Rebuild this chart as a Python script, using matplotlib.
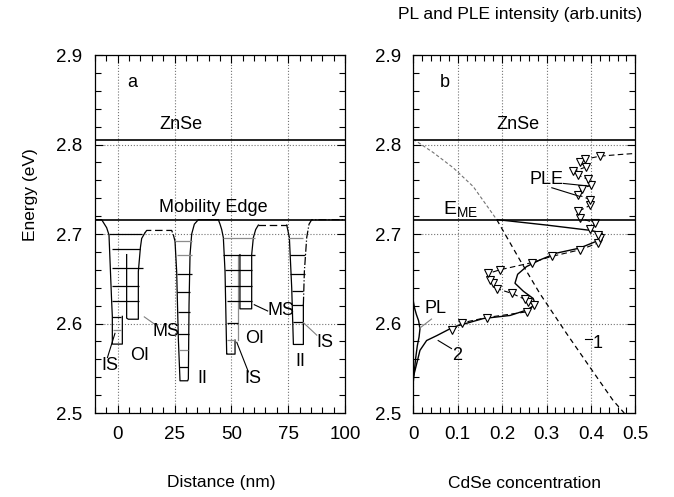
import matplotlib
matplotlib.use('Agg')
import matplotlib.pyplot as plt
from matplotlib.ticker import MultipleLocator

plt.rcParams['font.family'] = ['Liberation Sans', 'DejaVu Sans']
plt.rcParams['mathtext.fontset'] = 'custom'
plt.rcParams['mathtext.rm'] = 'Liberation Sans'

# energies of the two reference lines (eV)
e_znse = 2.805
e_mobility = 2.716

# ---- panel a: island profile along the layer (nm, eV)
well1_x = [-10, -7.05, -4.85, -3.83, -2.66, -2.36, -2.36, 2.04, 2.04]
well1_y = [2.716, 2.716, 2.707, 2.699, 2.6246, 2.608, 2.577, 2.577, 2.608]
ms1_x = [3.94, 3.94, 4.68, 9.08, 9.08, 10.0, 10.55, 12.02]
ms1_y = [2.677, 2.606, 2.6048, 2.6048, 2.658, 2.685, 2.695, 2.7014]
barrier1_x = [12.02, 12.76, 23.76, 24.49]
barrier1_y = [2.7014, 2.704, 2.704, 2.699]
ii1_x = [24.49, 25.22, 25.95, 26.69, 27.42, 30.80, 31.09, 31.39, 31.83, 32.56, 33.73, 35.49, 44.29]
ii1_y = [2.699, 2.692, 2.658, 2.583, 2.536, 2.536, 2.538, 2.621, 2.677, 2.700, 2.711, 2.716, 2.716]
well2_x = [44.29, 45.03, 45.76, 46.49, 47.23, 47.96, 47.96, 51.63, 51.63]
well2_y = [2.716, 2.711, 2.705, 2.696, 2.658, 2.5665, 2.5658, 2.5658, 2.5815]
oi2_x = [52.8, 52.8]
oi2_y = [2.5815, 2.677]
ms2_x = [53.8, 53.8, 54.56, 58.96, 58.96, 59.69, 60.72, 61.89]
ms2_y = [2.677, 2.6164, 2.6164, 2.6164, 2.677, 2.696, 2.705, 2.710]
barrier2_x = [61.89, 74.37]
barrier2_y = [2.710, 2.710]
ii2_x = [74.37, 74.81, 75.54, 76.57, 77.30, 77.30, 81.70, 81.70]
ii2_y = [2.710, 2.705, 2.696, 2.640, 2.578, 2.5766, 2.5766, 2.621]
ii2_edge_x = [81.70, 82.14, 83.17, 84.2, 85.37, 100]
ii2_edge_y = [2.621, 2.658, 2.696, 2.711, 2.716, 2.716]

# quantised levels: x start, x end, energy, colour
level_x1 = [-3.83, -2.66, -2.66, -2.66, -2.66, -2.36, -1.92,
            25.22, 25.95, 25.95, 25.95, 26.4, 26.69, 26.98, 26.98,
            46.49, 46.49, 47.23, 47.23, 47.96, 47.96, 47.96,
            75.10, 75.84, 75.84, 76.57, 76.57, 77.30]
level_x2 = [10.55, 9.82, 10.99, 9.52, 9.52, 1.45, 1.45,
            32.85, 32.56, 32.56, 31.83, 31.83, 31.39, 31.09, 30.80,
            60.43, 60.43, 58.96, 58.96, 58.96, 53.09, 51.63,
            81.70, 82.43, 82.43, 81.70, 81.70, 81.70]
level_e = [2.7003, 2.6834, 2.6621, 2.6415, 2.6246, 2.6078, 2.5928,
           2.6921, 2.6760, 2.6554, 2.6348, 2.6124, 2.5880, 2.5704, 2.5517,
           2.6958, 2.6771, 2.6603, 2.6415, 2.6246, 2.6003, 2.5815,
           2.6958, 2.6760, 2.6554, 2.6366, 2.6209, 2.6021]
level_c = ['k', 'k', 'k', 'k', 'k', 'k', '0.55',
           '0.55', '0.55', 'k', 'k', 'k', 'k', '0.55', 'k',
           '0.55', 'k', 'k', 'k', 'k', 'k', '0.55',
           '0.55', 'k', 'k', 'k', 'k', 'k']

region_text = ['IS', 'OI', 'MS', 'II', 'IS', 'OI', 'MS', 'IS', 'II']
region_x = [-3.4, 9.8, 21.4, 37.2, 59.7, 60.1, 71.9, 91.2, 80.5]
region_y = [2.553, 2.564, 2.591, 2.538, 2.538, 2.583, 2.614, 2.579, 2.557]
pointer_x = [(-4.5, -1.2), (11.7, 16.4), (52.4, 57.5), (60.1, 66.0), (81.7, 87.6)]
pointer_y = [(2.562, 2.589), (2.6074, 2.599), (2.579, 2.546), (2.621, 2.614), (2.601, 2.587)]
pointer_c = ['k', '0.5', 'k', 'k', '0.5']

# ---- panel b: CdSe concentration and spectra
curve1_x = [0.0, 0.045, 0.090, 0.135, 0.188, 0.240, 0.285, 0.345, 0.398, 0.450, 0.475]
curve1_e = [2.806, 2.791, 2.774, 2.753, 2.716, 2.671, 2.6335, 2.589, 2.551, 2.514, 2.5]
curve2_x = [0.0, 0.0076, 0.015, 0.030, 0.053, 0.090, 0.158, 0.218, 0.255, 0.275, 0.270,
            0.248, 0.229, 0.235, 0.255, 0.285, 0.323, 0.375, 0.413, 0.428, 0.425, 0.40,
            0.30, 0.19]
curve2_e = [2.540, 2.555, 2.570, 2.581, 2.5865, 2.596, 2.6056, 2.609, 2.615, 2.621, 2.628,
            2.636, 2.645, 2.655, 2.6636, 2.671, 2.6787, 2.6843, 2.692, 2.697, 2.701, 2.704,
            2.710, 2.716]
pl_x = [0.0, 0.002, 0.005, 0.009, 0.013, 0.015, 0.012, 0.007, 0.003, 0.0]
pl_e = [2.535, 2.545, 2.560, 2.575, 2.585, 2.594, 2.603, 2.610, 2.617, 2.625]
ple_x = [0.088, 0.109, 0.165, 0.255, 0.272, 0.259, 0.2515, 0.2216, 0.188, 0.180, 0.173,
         0.169, 0.195, 0.2667, 0.3117, 0.375, 0.4167, 0.4205, 0.4167, 0.398, 0.41, 0.375,
         0.372, 0.398, 0.398, 0.37, 0.379, 0.40, 0.394, 0.37, 0.360, 0.39, 0.375, 0.387,
         0.42, 0.47, 0.5]
ple_e = [2.5925, 2.6007, 2.6067, 2.613, 2.6206, 2.6243, 2.627, 2.6337, 2.639, 2.645, 2.6487,
         2.656, 2.660, 2.668, 2.675, 2.6823, 2.690, 2.6955, 2.699, 2.7056, 2.712, 2.718,
         2.7254, 2.732, 2.7385, 2.744, 2.7498, 2.755, 2.761, 2.766, 2.770, 2.775, 2.780,
         2.7835, 2.787, 2.789, 2.79]

fig = plt.figure(figsize=(6.74, 4.97), dpi=100)
ax_a = fig.add_axes([0.1409, 0.169, 0.3709, 0.7203])
ax_b = fig.add_axes([0.6132, 0.169, 0.3294, 0.7203])

lw = 0.9
# panel a
for y in (e_znse, e_mobility):
    ax_a.axhline(y, color='k', lw=1.2, zorder=3)
ax_a.plot(well1_x, well1_y, color='k', lw=lw)
ax_a.plot(ms1_x, ms1_y, color='k', lw=lw)
ax_a.plot(barrier1_x, barrier1_y, color='k', lw=lw, ls=(0, (6, 3)))
ax_a.plot(ii1_x, ii1_y, color='k', lw=lw)
ax_a.plot(well2_x, well2_y, color='k', lw=lw)
ax_a.plot(oi2_x, oi2_y, color='0.55', lw=lw)
ax_a.plot(ms2_x, ms2_y, color='k', lw=lw)
ax_a.plot(barrier2_x, barrier2_y, color='k', lw=lw, ls=(0, (6, 3)))
ax_a.plot(ii2_x, ii2_y, color='k', lw=lw)
ax_a.plot(ii2_edge_x, ii2_edge_y, color='k', lw=lw, ls='-.')
ax_a.hlines(level_e, level_x1, level_x2, colors=level_c, lw=lw)
for t, x, y in zip(region_text, region_x, region_y):
    ax_a.text(x, y, t, ha='center', va='center', fontsize=13)
for px, py, c in zip(pointer_x, pointer_y, pointer_c):
    ax_a.plot(px, py, color=c, lw=0.8)
ax_a.text(6.3, 2.869, 'a', ha='center', va='center', fontsize=13)
ax_a.text(27.8, 2.822, 'ZnSe', ha='center', va='center', fontsize=13)
ax_a.text(41.9, 2.7295, 'Mobility Edge', ha='center', va='center', fontsize=13)
ax_a.set_xlim(-10, 100)
ax_a.set_xticks([0, 25, 50, 75, 100])
ax_a.set_xticklabels(['0', '25', '50', '75', '100'])
ax_a.xaxis.set_minor_locator(MultipleLocator(5))

# panel b
for y in (e_znse, e_mobility):
    ax_b.axhline(y, color='k', lw=1.2, zorder=3)
ax_b.plot(curve1_x[:5], curve1_e[:5], color='0.45', lw=0.8, ls=(0, (3, 2)))
ax_b.plot(curve1_x[4:], curve1_e[4:], color='k', lw=0.9, ls=(0, (4, 3)))
ax_b.plot(curve2_x, curve2_e, color='k', lw=1.0)
ax_b.plot(pl_x, pl_e, color='k', lw=1.0)
ax_b.plot(ple_x, ple_e, color='k', lw=0.8, ls=(0, (5, 3)), marker='v', ms=6,
          mfc='white', mec='k', mew=0.8, markevery=slice(0, -2))
ax_b.text(0.072, 2.869, 'b', ha='center', va='center', fontsize=13)
ax_b.text(0.236, 2.822, 'ZnSe', ha='center', va='center', fontsize=13)
ax_b.text(0.067, 2.7215, r'E$_{\mathrm{ME}}$', ha='left', va='baseline', fontsize=14)
ax_b.text(0.301, 2.761, 'PLE', ha='center', va='center', fontsize=13)
ax_b.plot([0.338, 0.397], [2.7565, 2.7535], color='k', lw=0.8)
ax_b.plot([0.312, 0.375], [2.7517, 2.742], color='k', lw=0.8)
ax_b.text(0.049, 2.617, 'PL', ha='center', va='center', fontsize=13)
ax_b.plot([0.041, 0.015], [2.605, 2.595], color='0.5', lw=0.8)
ax_b.text(0.098, 2.564, '2', ha='center', va='center', fontsize=13)
ax_b.plot([0.056, 0.086], [2.581, 2.572], color='k', lw=0.8)
ax_b.text(0.415, 2.578, '1', ha='center', va='center', fontsize=13)
ax_b.plot([0.386, 0.402], [2.583, 2.583], color='k', lw=0.8)
ax_b.set_xlim(0, 0.5)
ax_b.set_xticks([0, 0.1, 0.2, 0.3, 0.4, 0.5])
ax_b.set_xticklabels(['0', '0.1', '0.2', '0.3', '0.4', '0.5'])
ax_b.xaxis.set_minor_locator(MultipleLocator(0.02))

for ax in (ax_a, ax_b):
    ax.set_ylim(2.5, 2.9)
    ax.set_yticks([2.5, 2.6, 2.7, 2.8, 2.9])
    ax.set_yticklabels(['2.5', '2.6', '2.7', '2.8', '2.9'])
    ax.yaxis.set_minor_locator(MultipleLocator(0.02))
    ax.grid(True, which='major', ls=':', color='0.45', lw=0.8)
    ax.tick_params(which='both', direction='in', top=True, right=True,
                   labelsize=13.5, pad=9, width=0.8)
    ax.tick_params(which='major', length=6)
    ax.tick_params(which='minor', length=4)
    for s in ax.spines.values():
        s.set_linewidth(0.9)

fig.text(30 / 674, 1 - 195 / 497, 'Energy (eV)', rotation=90, ha='center', va='center', fontsize=12.5)
fig.text(221 / 674, 1 - 483 / 497, 'Distance (nm)', ha='center', va='center', fontsize=12.5)
fig.text(524 / 674, 1 - 483 / 497, 'CdSe concentration', ha='center', va='center', fontsize=12.5)
fig.text(520 / 674, 1 - 15 / 497, 'PL and PLE intensity (arb.units)', ha='center', va='center', fontsize=12.5)

fig.savefig('out.png', dpi=100)
